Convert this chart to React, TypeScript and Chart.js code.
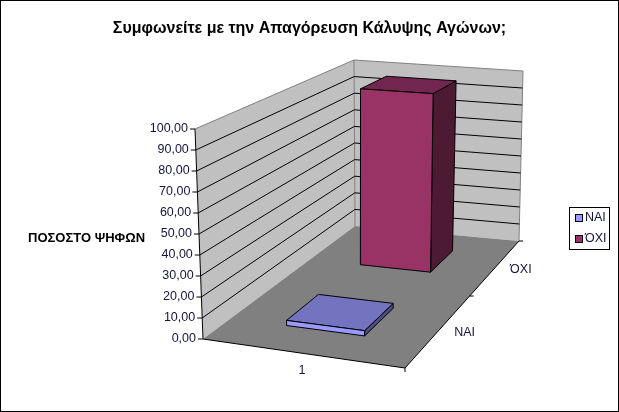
import React, { useEffect, useRef } from "react";
import Chart from "chart.js/auto";

const chartTitle = "Συμφωνείτε με την Απαγόρευση Κάλυψης Αγώνων;";
const valueAxisTitle = "ΠΟΣΟΣΤΟ ΨΗΦΩΝ";
const categories = ["1"];
const seriesNames = ["ΝΑΙ", "ΌΧΙ"];
const naiValues = [2.5];
const oxiValues = [97.5];

const FONT = '"Liberation Sans", Arial, sans-serif';
const TEXT = "#14143c";

// Corners of the 3D box as Excel projected it: floor and ceiling, [front-left, front-right, back-right, back-left]
type Pt = [number, number];
const FLOOR: Pt[] = [[203, 339], [405, 368], [519, 241], [355, 226]];
const CEIL: Pt[] = [[195, 129], [406, 143], [523, 71], [354, 60]];

// unit square -> quad
const homography = (q: Pt[]) => {
  const [p0, p1, p2, p3] = q;
  const dx1 = p1[0] - p2[0];
  const dx2 = p3[0] - p2[0];
  const sx = p0[0] - p1[0] + p2[0] - p3[0];
  const dy1 = p1[1] - p2[1];
  const dy2 = p3[1] - p2[1];
  const sy = p0[1] - p1[1] + p2[1] - p3[1];
  const det = dx1 * dy2 - dx2 * dy1;
  const g = (sx * dy2 - dx2 * sy) / det;
  const h = (dx1 * sy - sx * dy1) / det;
  const a = p1[0] - p0[0] + g * p1[0];
  const b = p3[0] - p0[0] + h * p3[0];
  const d = p1[1] - p0[1] + g * p1[1];
  const e = p3[1] - p0[1] + h * p3[1];
  return (u: number, v: number): Pt => {
    const w = g * u + h * v + 1;
    return [(a * u + b * v + p0[0]) / w, (d * u + e * v + p0[1]) / w];
  };
};

const floorAt = homography(FLOOR);
const ceilAt = homography(CEIL);

// u along categories, v along series depth, w up the value axis (all 0..1)
const project = (u: number, v: number, w: number): Pt => {
  const f = floorAt(u, v);
  const c = ceilAt(u, v);
  return [f[0] + (c[0] - f[0]) * w, f[1] + (c[1] - f[1]) * w];
};

const poly = (ctx: CanvasRenderingContext2D, pts: Pt[], fill: string | null, stroke: string | null) => {
  ctx.beginPath();
  pts.forEach((p, i) => (i ? ctx.lineTo(p[0], p[1]) : ctx.moveTo(p[0], p[1])));
  ctx.closePath();
  if (fill) {
    ctx.fillStyle = fill;
    ctx.fill();
  }
  if (stroke) {
    ctx.strokeStyle = stroke;
    ctx.stroke();
  }
};

const line = (ctx: CanvasRenderingContext2D, a: Pt, b: Pt, color: string) => {
  ctx.beginPath();
  ctx.moveTo(a[0], a[1]);
  ctx.lineTo(b[0], b[1]);
  ctx.strokeStyle = color;
  ctx.stroke();
};

const text = (ctx: CanvasRenderingContext2D, s: string, x: number, y: number, align: CanvasTextAlign, font: string, color: string) => {
  ctx.font = font;
  ctx.fillStyle = color;
  ctx.textAlign = align;
  ctx.textBaseline = "middle";
  ctx.fillText(s, x, y);
};

const frac = (scale: any, value: number) => {
  const span = scale.axis === "y" ? scale.top - scale.bottom : scale.right - scale.left;
  const start = scale.axis === "y" ? scale.bottom : scale.left;
  return (scale.getPixelForValue(value) - start) / span;
};

const faces = {
  nai: { front: "#9999ff", top: "#7373c0", side: "#4d4d80" },
  oxi: { front: "#993366", top: "#732650", side: "#4d1a33" },
};

const box3d = {
  id: "box3d",
  beforeDatasetsDraw(chart: any) {
    const { ctx, scales } = chart;
    const { x, y, depth } = scales;
    ctx.save();
    ctx.lineWidth = 1;

    // walls and floor
    poly(ctx, [project(0, 0, 0), project(0, 1, 0), project(0, 1, 1), project(0, 0, 1)], "#c0c0c0", null);
    poly(ctx, [project(0, 1, 0), project(1, 1, 0), project(1, 1, 1), project(0, 1, 1)], "#c0c0c0", null);
    poly(ctx, [project(0, 0, 0), project(1, 0, 0), project(1, 1, 0), project(0, 1, 0)], "#808080", null);
    line(ctx, project(0, 0, 1), project(0, 1, 1), "#808080");
    line(ctx, project(0, 1, 1), project(1, 1, 1), "#808080");
    line(ctx, project(1, 1, 1), project(1, 1, 0), "#808080");
    line(ctx, project(0, 1, 1), project(0, 1, 0), "#808080");

    // value grid and ticks
    y.ticks.forEach((t: any) => {
      const w = frac(y, t.value);
      const p = project(0, 0, w);
      if (w > 0 && w < 1) {
        line(ctx, p, project(0, 1, w), "#000");
        line(ctx, project(0, 1, w), project(1, 1, w), "#000");
      }
      line(ctx, [p[0] - 5, p[1]], p, "#000");
      text(ctx, t.label, p[0] - 7, p[1], "right", `12.5px ${FONT}`, TEXT);
    });
    line(ctx, project(0, 0, 0), project(0, 0, 1), "#000");
    line(ctx, project(0, 0, 0), project(1, 0, 0), "#000");
    line(ctx, project(1, 0, 0), project(1, 1, 0), "#000");

    // category axis
    const fr = project(1, 0, 0);
    line(ctx, fr, [fr[0], fr[1] + 4], "#000");
    const c = project(frac(x, 0), 0, 0);
    text(ctx, String(x.getLabels()[0]), c[0] + 2, c[1] + 18, "center", `12.5px ${FONT}`, TEXT);

    // depth axis
    depth.getLabels().forEach((label: string, i: number) => {
      const mid = project(1, frac(depth, i), 0);
      text(ctx, label, mid[0] + 25, mid[1] + 3, "center", `12.5px ${FONT}`, TEXT);
      const edge = project(1, frac(depth, i + 0.5), 0);
      line(ctx, edge, [edge[0] + 4, edge[1]], "#000");
    });

    // columns, back series first
    const order = chart.data.datasets.map((_: any, i: number) => i).reverse();
    order.forEach((i: number) => {
      const ds = chart.data.datasets[i];
      const col = ds.faces;
      const u0 = frac(x, 0 - 0.2);
      const u1 = frac(x, 0 + 0.2);
      const v0 = frac(depth, i - 0.2);
      const v1 = frac(depth, i + 0.2);
      const w = frac(y, ds.data[0]);
      poly(ctx, [project(u1, v0, 0), project(u1, v1, 0), project(u1, v1, w), project(u1, v0, w)], col.side, "#000");
      poly(ctx, [project(u0, v0, w), project(u1, v0, w), project(u1, v1, w), project(u0, v1, w)], col.top, "#000");
      poly(ctx, [project(u0, v0, 0), project(u1, v0, 0), project(u1, v0, w), project(u0, v0, w)], col.front, "#000");
    });

    // value axis title
    text(ctx, valueAxisTitle, 28, 238, "left", `bold 13px ${FONT}`, "#000");

    // legend
    ctx.strokeStyle = "#000";
    ctx.strokeRect(569.5, 207.5, 40, 42);
    chart.data.datasets.forEach((ds: any, i: number) => {
      const yPos = 218 + i * 21;
      ctx.fillStyle = ds.faces.front;
      ctx.fillRect(575.5, yPos - 3.5, 7, 7);
      ctx.strokeRect(575.5, yPos - 3.5, 7, 7);
      text(ctx, ds.label, 585, yPos, "left", `12.5px ${FONT}`, TEXT);
    });

    // chart frame
    ctx.strokeStyle = "#000";
    ctx.strokeRect(0.5, 0.5, chart.width - 1, chart.height - 1);
    ctx.restore();
    return false;
  },
};

const App: React.FC = () => {
  const chartRef = useRef<HTMLCanvasElement | null>(null);

  useEffect(() => {
    if (!chartRef.current) return;
    const chart = new Chart(chartRef.current, {
      type: "bar",
      data: {
        labels: categories,
        datasets: [
          { label: seriesNames[0], data: naiValues, faces: faces.nai } as any,
          { label: seriesNames[1], data: oxiValues, faces: faces.oxi } as any,
        ],
      },
      options: {
        animation: false,
        responsive: false,
        devicePixelRatio: 1,
        layout: { padding: 0 },
        plugins: {
          legend: { display: false },
          tooltip: { enabled: false },
          title: {
            display: true,
            text: chartTitle,
            color: "#000",
            font: { family: FONT, size: 16, weight: "bold" },
            padding: { top: 19, bottom: 10 },
          },
        },
        scales: {
          x: { type: "category", display: false, offset: true },
          depth: { type: "category", axis: "x", display: false, offset: true, labels: seriesNames, position: "bottom" },
          y: {
            display: false,
            min: 0,
            max: 100,
            ticks: { stepSize: 10, callback: (v: any) => Number(v).toFixed(2).replace(".", ",") },
          },
        },
      } as any,
      plugins: [box3d],
    });
    return () => chart.destroy();
  }, []);

  return (
    <div style={{ position: "fixed", left: 0, top: 0, width: 619, height: 412, background: "#fff" }}>
      <canvas ref={chartRef} width={619} height={412} style={{ display: "block" }} />
    </div>
  );
};

export default App;
